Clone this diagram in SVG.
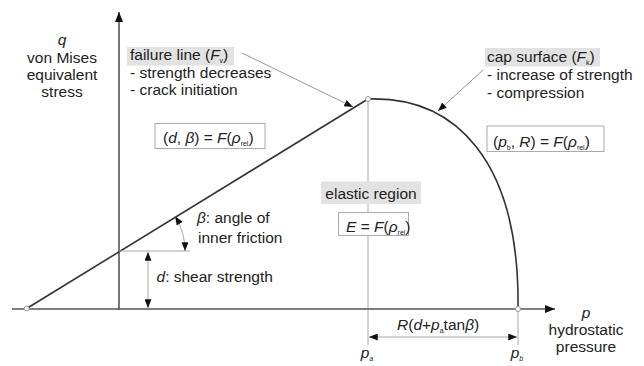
<svg xmlns="http://www.w3.org/2000/svg" width="644" height="366" viewBox="0 0 644 366">
<defs>
<marker id="ah" viewBox="0 0 10 8" refX="10" refY="4" markerWidth="10" markerHeight="8" markerUnits="userSpaceOnUse" orient="auto-start-reverse"><path d="M0,0 L10,4 L0,8 z" fill="#111"/></marker>
<marker id="as" viewBox="0 0 10 8" refX="10" refY="4" markerWidth="9" markerHeight="7" markerUnits="userSpaceOnUse" orient="auto-start-reverse"><path d="M0,0 L10,4 L0,8 z" fill="#111"/></marker>
<style>
text{font-family:"Liberation Sans",Arial,sans-serif;font-size:15.5px;fill:#222}
.i{font-style:italic}
.sub{font-size:7px}
.c{text-anchor:middle}
.axis{stroke:#555;stroke-width:1.6;fill:none}
.curve{stroke:#333;stroke-width:1.6;fill:none}
.thin{stroke:#aaa;stroke-width:1;fill:none}
.call{stroke:#999;stroke-width:1;fill:none}
.hl{fill:#e2e2e2}
.box{fill:#fff;stroke:#aaa;stroke-width:1}
.pt{fill:#fff;stroke:#999;stroke-width:1}
</style>
</defs>
<rect width="644" height="366" fill="#fff"/>
<g id="connectors">
<line class="thin" x1="368" y1="99" x2="368" y2="345"/>
<line class="thin" x1="518" y1="309" x2="518" y2="345"/>
<line class="axis" x1="12" y1="309" x2="555" y2="309" marker-end="url(#ah)"/>
<line class="axis" x1="119" y1="310" x2="119" y2="12" marker-end="url(#ah)"/>
<line class="curve" x1="26.7" y1="308.5" x2="368" y2="99"/>
<path class="curve" d="M368,99 C455,96 520,160 518,309"/>
<line class="thin" x1="119" y1="251" x2="190" y2="251"/>
<path class="thin" d="M175.1,216.2 A66,66 0 0 1 185,251" marker-start="url(#as)" marker-end="url(#as)"/>
<line class="thin" x1="148" y1="252" x2="148" y2="308" marker-start="url(#as)" marker-end="url(#as)"/>
<line class="thin" x1="369" y1="337" x2="517" y2="337" marker-start="url(#as)" marker-end="url(#as)"/>
<line class="call" x1="242" y1="53" x2="353" y2="107" marker-end="url(#as)"/>
<line class="call" x1="483" y1="70" x2="438" y2="111" marker-end="url(#as)"/>
<circle class="pt" cx="26.7" cy="308.5" r="2.5"/>
<circle class="pt" cx="368" cy="99" r="2.5"/>
<circle class="pt" cx="518" cy="309" r="2.5"/>
</g>
<g id="q-label">
<text class="c i" x="62" y="45">q</text>
<text class="c" x="62" y="62.7">von Mises</text>
<text class="c" x="62" y="80">equivalent</text>
<text class="c" x="62" y="96.7">stress</text>
</g>
<g id="p-label">
<text class="c i" x="586" y="318">p</text>
<text class="c" x="586" y="335">hydrostatic</text>
<text class="c" x="586" y="351.5">pressure</text>
</g>
<g id="failure-line">
<rect class="hl" x="127" y="47" width="107" height="18.5"/>
<text x="130" y="60">failure line (<tspan class="i">F</tspan><tspan class="sub" dy="3">v</tspan><tspan dy="-3">)</tspan></text>
<text x="130" y="77.5">- strength decreases</text>
<text x="130" y="95">- crack initiation</text>
</g>
<g id="cap-surface">
<rect class="hl" x="485" y="48" width="115" height="18.5"/>
<text x="487" y="61.5">cap surface (<tspan class="i">F</tspan><tspan class="sub" dy="3">k</tspan><tspan dy="-3">)</tspan></text>
<text x="487" y="80">- increase of strength</text>
<text x="487" y="98">- compression</text>
</g>
<g id="d-beta">
<rect class="box" x="155" y="123.5" width="110" height="25"/>
<text x="163" y="143">(<tspan class="i">d</tspan>, <tspan class="i">β</tspan>) = <tspan class="i">F</tspan>(<tspan class="i">ρ</tspan><tspan class="sub" dy="3">rel</tspan><tspan dy="-3">)</tspan></text>
</g>
<g id="pb-R">
<rect class="box" x="487" y="126" width="117" height="25.5"/>
<text x="493" y="146.5">(<tspan class="i">p</tspan><tspan class="sub" dy="3">b</tspan><tspan dy="-3">, </tspan><tspan class="i">R</tspan>) = <tspan class="i">F</tspan>(<tspan class="i">ρ</tspan><tspan class="sub" dy="3">rel</tspan><tspan dy="-3">)</tspan></text>
</g>
<g id="elastic-region">
<rect class="hl" x="321" y="181.5" width="100" height="22.5"/>
<text class="c" x="371" y="199">elastic region</text>
<rect class="box" x="338.5" y="212.5" width="70" height="23"/>
<text x="346" y="231.5"><tspan class="i">E</tspan> = <tspan class="i">F</tspan>(<tspan class="i">ρ</tspan><tspan class="sub" dy="3">rel</tspan><tspan dy="-3">)</tspan></text>
</g>
<g id="beta-label">
<text x="197" y="223"><tspan class="i">β</tspan>: angle of</text>
<text x="198" y="242.5">inner friction</text>
</g>
<g id="d-label">
<text x="156.5" y="281.5"><tspan class="i">d</tspan>: shear strength</text>
</g>
<g id="R-label">
<text x="397" y="330"><tspan class="i">R</tspan>(<tspan class="i">d</tspan>+<tspan class="i">p</tspan><tspan class="sub" dy="3">a</tspan><tspan dy="-3">tan</tspan><tspan class="i">β</tspan>)</text>
</g>
<g id="pa-pb">
<text class="c i" x="367" y="358">p<tspan class="sub" dy="3">a</tspan></text>
<text class="c i" x="517" y="358">p<tspan class="sub" dy="3">b</tspan></text>
</g>
</svg>
